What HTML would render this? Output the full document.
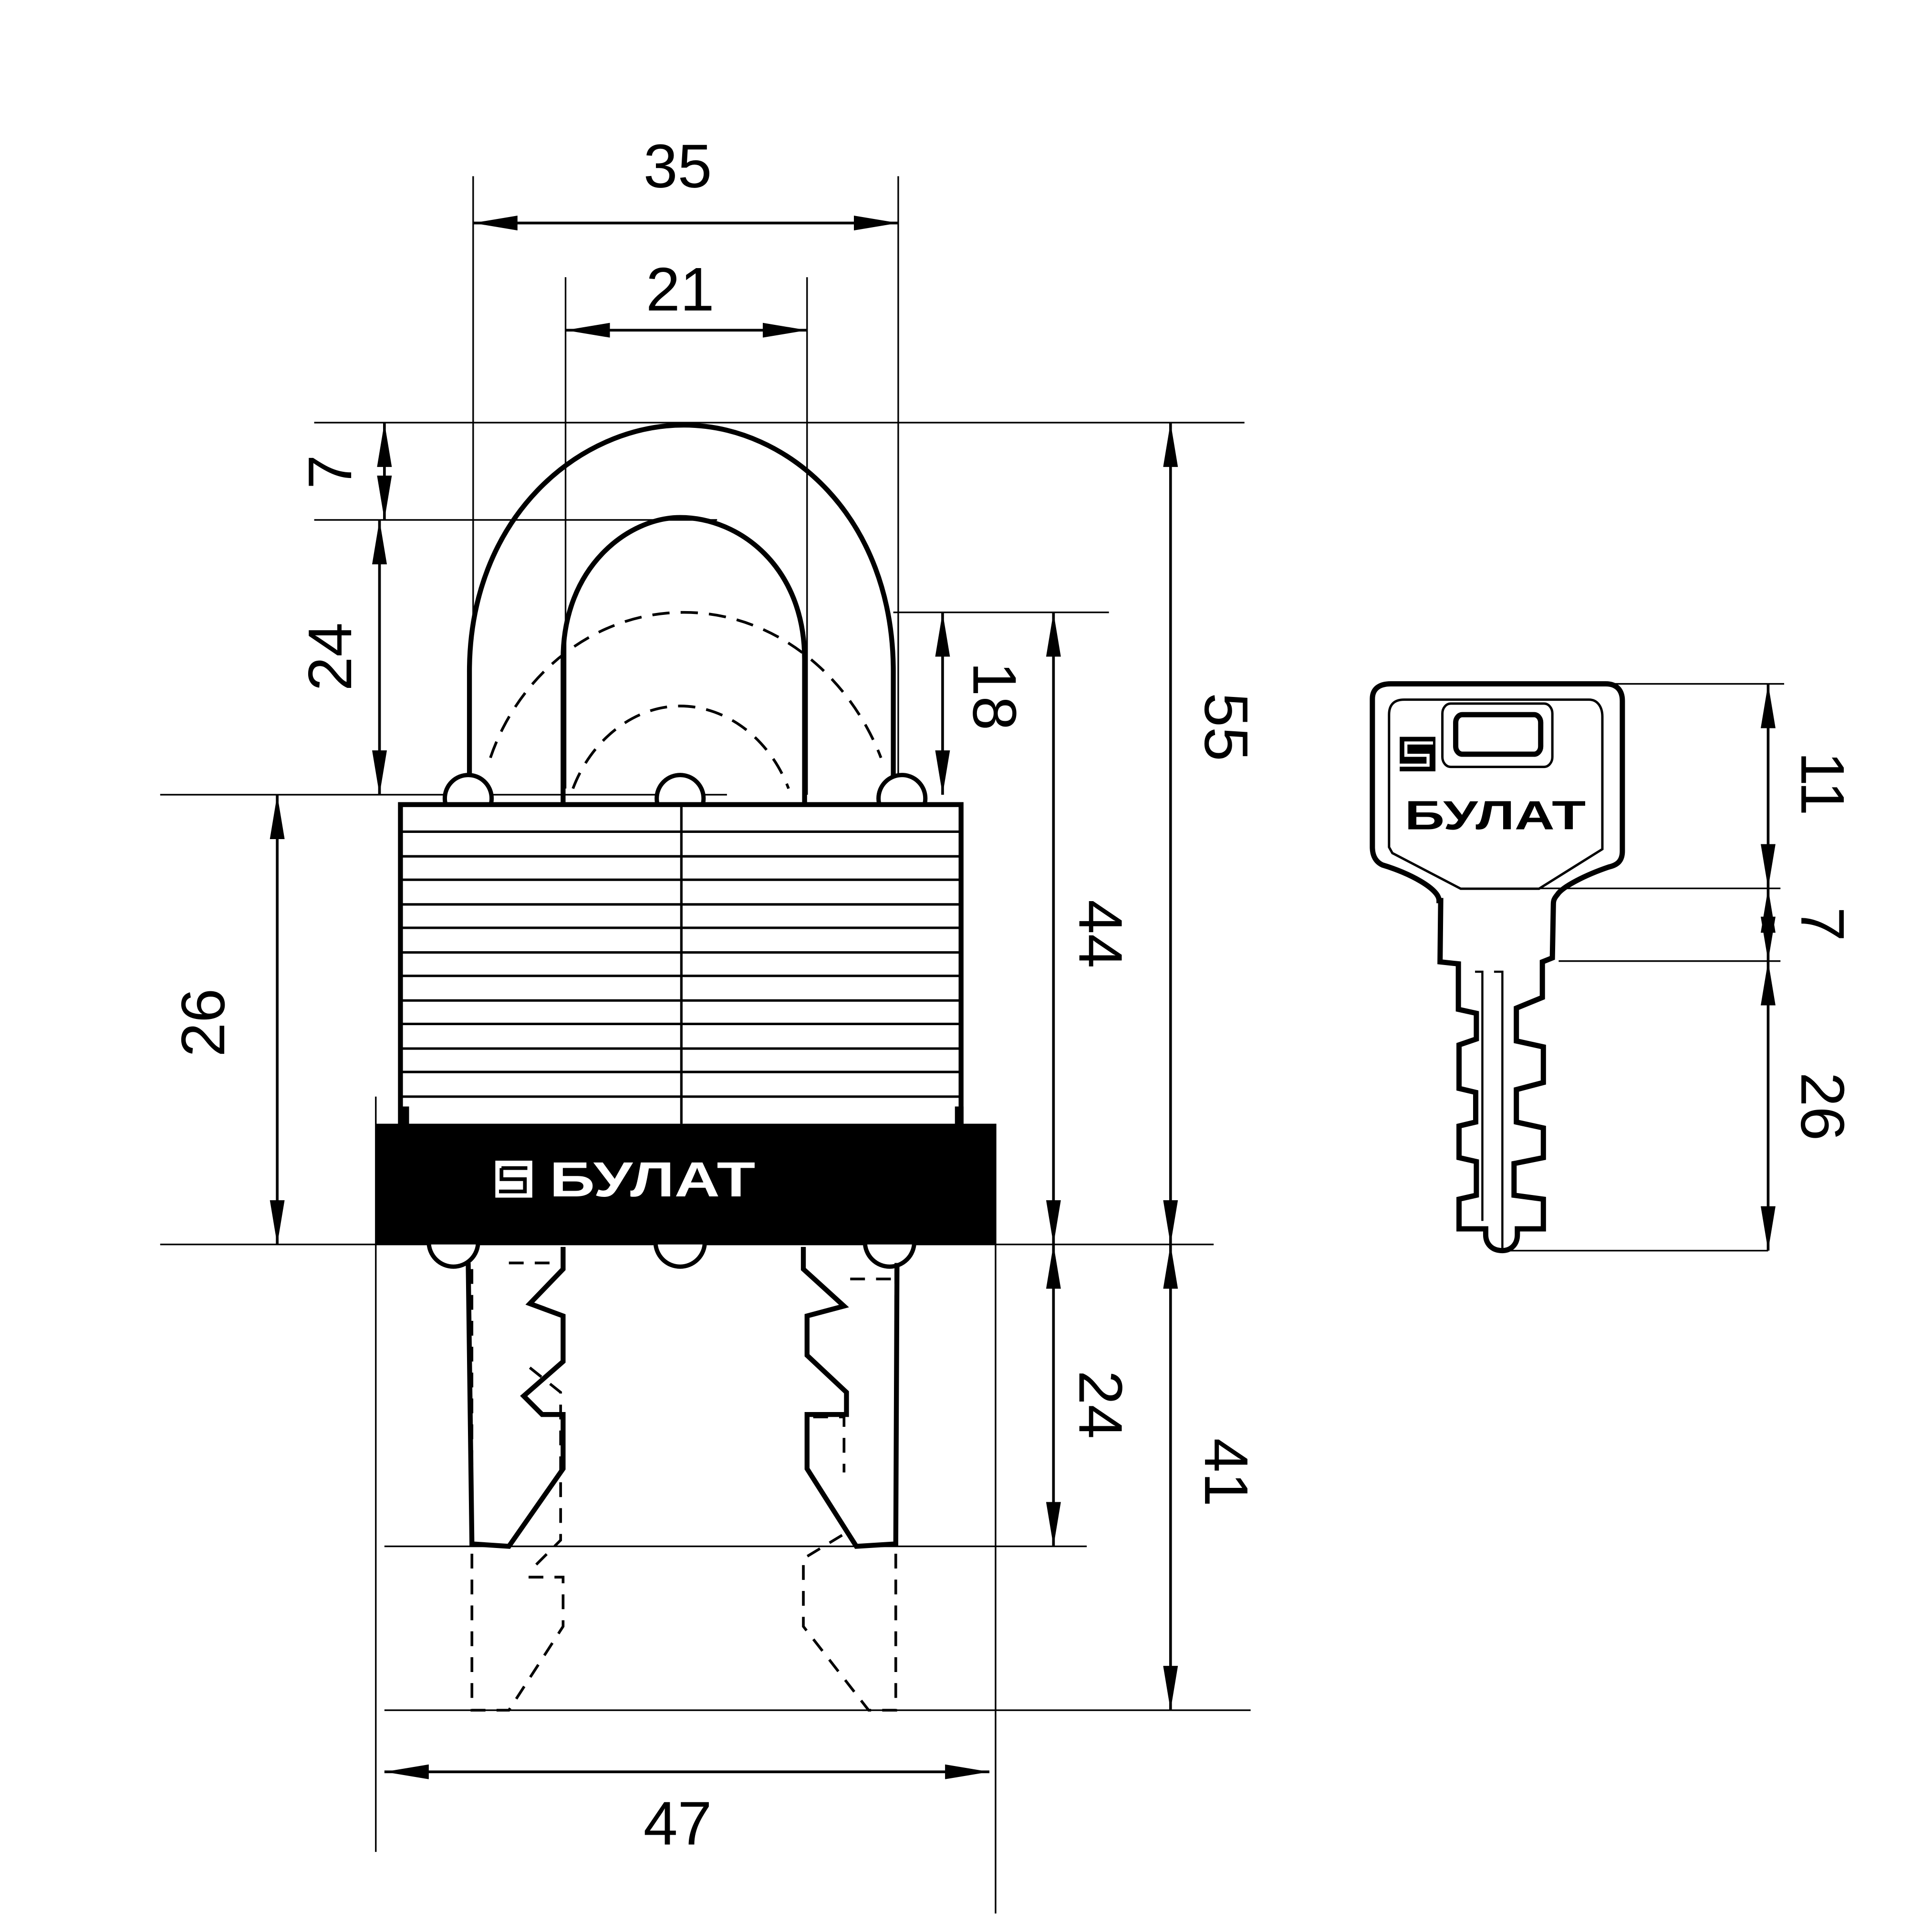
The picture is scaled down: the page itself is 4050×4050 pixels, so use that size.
<!DOCTYPE html>
<html><head><meta charset="utf-8"><style>html,body{margin:0;padding:0;background:#fff}svg{display:block}</style></head>
<body>
<svg xmlns="http://www.w3.org/2000/svg" width="4050" height="4050" viewBox="0 0 1568 1568">
<defs>
<marker id="b" viewBox="0 0 36 12" refX="36" refY="6" markerWidth="36" markerHeight="12" markerUnits="userSpaceOnUse" orient="auto-start-reverse"><path d="M0,0 L36,6 L0,12 Z" fill="#000"/></marker>
</defs>
<g fill="none" stroke="#000" stroke-width="1.3">
<line x1="384" y1="143" x2="384" y2="500"/><line x1="729" y1="143" x2="729" y2="640"/>
<line x1="459" y1="225" x2="459" y2="640"/><line x1="655" y1="225" x2="655" y2="645"/>
<line x1="255" y1="343" x2="1010" y2="343"/><line x1="255" y1="422" x2="582" y2="422"/>
<line x1="725" y1="497" x2="900" y2="497"/><line x1="130" y1="645" x2="590" y2="645"/>
<line x1="130" y1="1010" x2="985" y2="1010"/><line x1="312" y1="1255" x2="882" y2="1255"/>
<line x1="312" y1="1388" x2="1015" y2="1388"/>
<line x1="305" y1="890" x2="305" y2="1503"/><line x1="808" y1="912" x2="808" y2="1553"/>
<line x1="1185" y1="555" x2="1448" y2="555"/><line x1="1250" y1="721" x2="1445" y2="721"/>
<line x1="1265" y1="780" x2="1445" y2="780"/><line x1="1220" y1="1015" x2="1435" y2="1015"/>
</g>
<g fill="none" stroke="#000" stroke-width="2.2" marker-start="url(#b)" marker-end="url(#b)">
<line x1="384" y1="181" x2="729" y2="181"/>
<line x1="459" y1="268" x2="655" y2="268"/>
<line x1="312" y1="343" x2="312" y2="422"/>
<line x1="308" y1="422" x2="308" y2="645"/>
<line x1="225" y1="645" x2="225" y2="1010"/>
<line x1="765" y1="497" x2="765" y2="645"/>
<line x1="855" y1="497" x2="855" y2="1010"/>
<line x1="950" y1="343" x2="950" y2="1010"/>
<line x1="855" y1="1010" x2="855" y2="1255"/>
<line x1="950" y1="1010" x2="950" y2="1388"/>
<line x1="312" y1="1438" x2="803" y2="1438"/>
<line x1="1435" y1="555" x2="1435" y2="721"/>
<line x1="1435" y1="721" x2="1435" y2="780"/>
<line x1="1435" y1="780" x2="1435" y2="1015"/>
</g>
<g font-family="'Liberation Sans',sans-serif" font-size="50" fill="#000" text-anchor="middle">
<text x="550" y="152">35</text><text x="552" y="252">21</text>
<text x="550" y="1497">47</text>
<text transform="translate(285,383) rotate(-90)">7</text>
<text transform="translate(285,533) rotate(-90)">24</text>
<text transform="translate(182,830) rotate(-90)">26</text>
<text transform="translate(790,565) rotate(90)">18</text>
<text transform="translate(876,758) rotate(90)">44</text>
<text transform="translate(978,590) rotate(90)">55</text>
<text transform="translate(876,1140) rotate(90)">24</text>
<text transform="translate(978,1195) rotate(90)">41</text>
<text transform="translate(1462,636) rotate(90)">11</text>
<text transform="translate(1462,750) rotate(90)">7</text>
<text transform="translate(1462,898) rotate(90)">26</text>
</g>
<g fill="none" stroke="#000" stroke-width="4">
<path d="M381,645 V545 C381,420 470,345 555,345 C640,345 725,420 725,545 V645"/>
<path d="M457,652 V535 C457,460 510,420 552,420 C600,420 653,460 653,535 V652"/>
</g>
<g fill="none" stroke="#000" stroke-width="2.2" stroke-dasharray="14,9">
<path d="M398,615 C420,550 480,497 555,497 C630,497 690,550 715,615"/>
<path d="M465,640 C480,600 515,573 552,573 C590,573 625,600 640,640"/>
</g>
<g fill="#fff" stroke="#000" stroke-width="3.5">
<circle cx="380" cy="648" r="19"/><circle cx="552" cy="648" r="19"/><circle cx="732" cy="648" r="19"/>
<circle cx="368" cy="1008" r="20"/><circle cx="552" cy="1008" r="20"/><circle cx="722" cy="1008" r="20"/>
</g>
<rect x="325" y="653" width="455" height="262" fill="#fff" stroke="#000" stroke-width="4"/>
<g stroke="#000" stroke-width="2">
<line x1="325" y1="675" x2="780" y2="675"/><line x1="325" y1="695" x2="780" y2="695"/>
<line x1="325" y1="714" x2="780" y2="714"/><line x1="325" y1="734" x2="780" y2="734"/>
<line x1="325" y1="753" x2="780" y2="753"/><line x1="325" y1="773" x2="780" y2="773"/>
<line x1="325" y1="792" x2="780" y2="792"/><line x1="325" y1="812" x2="780" y2="812"/>
<line x1="325" y1="831" x2="780" y2="831"/><line x1="325" y1="851" x2="780" y2="851"/>
<line x1="325" y1="870" x2="780" y2="870"/><line x1="325" y1="890" x2="780" y2="890"/>
<line x1="553" y1="653" x2="553" y2="912"/>
</g>
<path d="M305,912 H325 V898 H332 V912 H775 V898 H782 V912 H808 V1010 H305 Z" fill="#000"/>
<rect x="402" y="942" width="30" height="30" fill="#fff"/>
<path d="M407,948 H428 M407,948 V957 H426 V967 H405" fill="none" stroke="#000" stroke-width="3"/>
<text x="446" y="971" font-family="'Liberation Sans',sans-serif" font-weight="bold" font-size="40" fill="#fff" textLength="167" lengthAdjust="spacingAndGlyphs">БУЛАТ</text>
<g fill="none" stroke="#000" stroke-width="4" stroke-linejoin="miter">
<path d="M457,1012 V1030 L430,1058 L457,1068 V1105 L425,1133 L440,1148 H457 V1192 L413,1255 L383,1253 L380,1025"/>
<path d="M652,1012 V1030 L685,1060 L655,1068 V1100 L687,1130 V1148 H655 V1192 L695,1255 L727,1253 L728,1025"/>
</g>
<g fill="none" stroke="#000" stroke-width="2.2" stroke-dasharray="12,9">
<path d="M383,1030 L383,1388 H413 L457,1320 V1280 H425"/>
<path d="M413,1025 H450 M430,1110 L455,1130 V1250 L430,1275"/>
<path d="M727,1030 L727,1388 H705 L652,1320 V1265 L685,1245"/>
<path d="M690,1038 H725 M660,1150 H685 V1195"/>
</g>
<g transform="translate(1103,541.5) scale(0.2705,0.321)" fill="none" stroke="#000">
<path vector-effect="non-scaling-stroke" stroke-width="11" d="M240,590 C240,560 150,520 70,500 C45,490 40,470 40,455 V80 C40,55 60,42 95,42 H740 C775,42 790,60 790,85 V465 C790,490 775,500 750,505 C680,525 610,555 595,575 C585,585 583,590 583,600 L580,735 L550,745 L550,835 L472,862 L472,945 L553,960 L553,1050 L472,1068 L472,1150 L553,1165 L553,1240 L465,1255 L465,1335 L553,1345 L553,1420 L475,1420 L475,1435 C475,1460 455,1475 430,1475 C395,1475 380,1455 380,1435 L380,1420 L300,1420 L300,1345 L352,1335 L352,1250 L300,1240 L300,1160 L350,1150 L350,1075 L300,1065 L300,955 L352,940 L352,875 L298,865 L298,750 L243,745 L245,590 Z"/>
<path vector-effect="non-scaling-stroke" stroke-width="5" d="M90,455 V120 C90,95 105,82 135,82 H690 C715,82 730,100 730,125 V460 L540,560 H305 L100,470 Z"/>
<rect vector-effect="non-scaling-stroke" stroke-width="5" x="250" y="92" width="330" height="160" rx="25"/>
<rect vector-effect="non-scaling-stroke" stroke-width="11" x="290" y="120" width="255" height="100" rx="20"/>
<path vector-effect="non-scaling-stroke" stroke-width="4.5" d="M348,770 H370 V1400 M405,770 H430 V1475"/>
</g>
<rect x="1136" y="598" width="29" height="28" fill="#000"/>
<path d="M1163,603 H1141 V613 H1159 V621 H1136" fill="none" stroke="#fff" stroke-width="2.5"/>
<text x="1140" y="673" font-family="'Liberation Sans',sans-serif" font-weight="bold" font-size="33" fill="#000" textLength="147" lengthAdjust="spacingAndGlyphs">БУЛАТ</text>
</svg>
</body></html>
